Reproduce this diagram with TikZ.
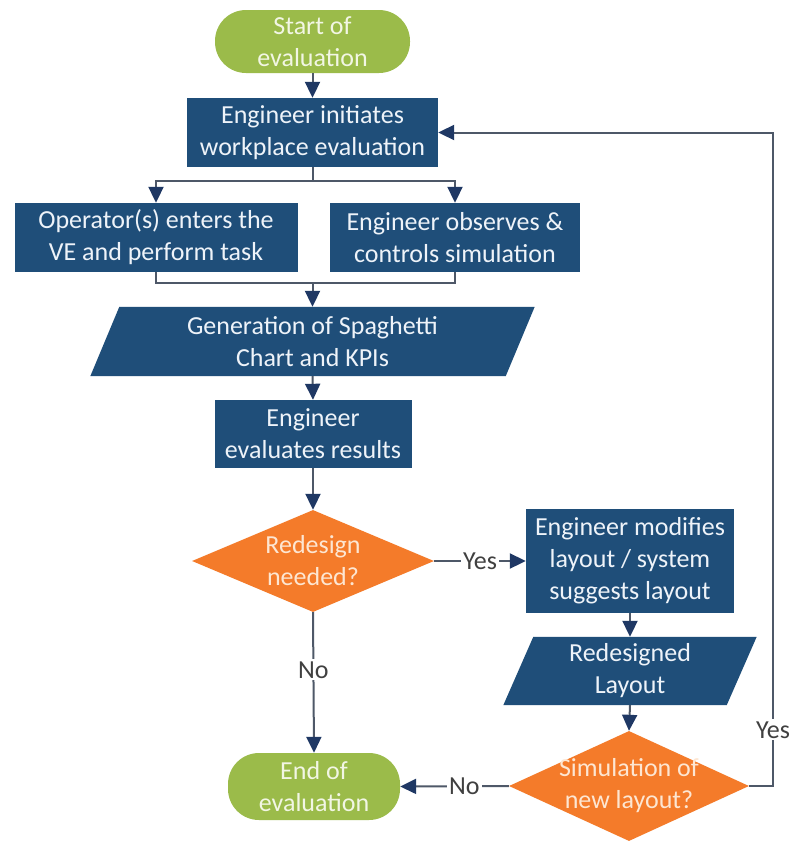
\documentclass[tikz,border=0pt]{standalone}
\usepackage{fontspec}
\setmainfont{Carlito}
\usetikzlibrary{arrows.meta,shapes.geometric,backgrounds,calc}
\definecolor{nblue}{HTML}{1F4E79}
\definecolor{ngreen}{HTML}{9BBB4A}
\definecolor{norange}{HTML}{F47B2A}
\definecolor{nline}{HTML}{4E5868}
\definecolor{ntip}{HTML}{1F3864}
\definecolor{nlabel}{HTML}{404040}
\definecolor{boxtext}{HTML}{EEF3F9}
\definecolor{greentext}{HTML}{F2F6E4}
\definecolor{orangetext}{HTML}{FDE6D2}
\begin{document}
\begin{tikzpicture}[x=1pt,y=-1pt,
  font=\fontsize{26}{32}\selectfont,
  box/.style={rectangle, fill=nblue, text=boxtext, align=center, inner sep=0pt},
  term/.style={rectangle, rounded corners=31pt, fill=ngreen, text=greentext, align=center, inner sep=0pt},
  dia/.style={diamond, fill=norange, inner sep=0pt},
  dtext/.style={text=orangetext, align=center, inner sep=0pt},
  ptext/.style={text=boxtext, align=center, inner sep=0pt},
  flow/.style={draw=nline, line width=2pt, -{Triangle[length=16pt,width=15pt,color=ntip]}},
  conn/.style={draw=nline, line width=2pt},
  lab/.style={fill=white, text=nlabel, inner sep=2pt}
]
\useasboundingbox (0,0) rectangle (791,841);

% nodes
\node[term, minimum width=195pt, minimum height=63pt] (start) at (312.5,41.5) {Start of\\evaluation};
\node[box, minimum width=251pt, minimum height=69pt] (init) at (312.5,132.5) {Engineer initiates\\workplace evaluation};
\node[box, minimum width=283pt, minimum height=69pt] (op) at (156,237.5) {Operator(s) enters the\\VE and perform task};
\node[box, minimum width=250pt, minimum height=69pt] (obs) at (455,237.5) {Engineer observes \&\\controls simulation};
\node[ptext, minimum width=415pt, minimum height=69pt] (gen) at (312.5,341.5) {Generation of Spaghetti\\Chart and KPIs};
\node[box, minimum width=197pt, minimum height=68pt] (evalr) at (313,434) {Engineer\\evaluates results};
\node[dia, minimum width=242pt, minimum height=102pt] (redes) at (313,561) {};
\node[dtext] (redest) at (redes.center) {Redesign\\needed?};
\node[box, minimum width=208pt, minimum height=104pt] (mod) at (630,561) {Engineer modifies\\layout / system\\suggests layout};
\node[ptext, minimum width=223pt, minimum height=68pt] (rl) at (630,671) {Redesigned\\Layout};
\node[dia, minimum width=240pt, minimum height=110pt] (sim) at (629,786) {};
\node[dtext] (simt) at (sim.center) {Simulation of\\new layout?};
\node[term, minimum width=172pt, minimum height=67pt] (end) at (314,786.5) {End of\\evaluation};

% helper coordinates
\coordinate (sp) at (312.5,181);
\coordinate (mg) at (312.5,283);
\coordinate (rc) at (773,786);
\coordinate (rt) at (773,132.5);

% connectors
\draw[flow] (start) -- (init);
\draw[conn] (init.south) -- (sp);
\draw[flow] (sp) -| (op.north);
\draw[flow] (sp) -| (obs.north);
\draw[conn] (op.south) |- (mg);
\draw[conn] (obs.south) |- (mg);
\draw[flow] (mg) -- (gen.north);
\draw[flow] (gen.south) -- (evalr.north);
\draw[flow] (evalr.south) -- (redes.north);
\draw[flow] (redes.east) -- node[lab]{Yes} (mod.west);
\draw[flow] (mod.south) -- (rl.north);
\draw[flow] (rl.south) -- (sim.north);
\draw[flow] (redes.south) -- node[lab, pos=0.41]{No} (end.north);
\draw[flow] (sim.west) -- node[lab, pos=0.41]{No} (end.east);
\draw[flow] (sim.east) -- (rc) -- node[lab, pos=0.086]{Yes} (rt) -- (init.east);

% background fills
\begin{scope}[on background layer]
  \fill[white] (0,0) rectangle (791,841);
  \fill[nblue] ($(gen.north west)+(14.5,0)$) -- ($(gen.north east)+(14.5,0)$)
     -- ($(gen.south east)+(-14.5,0)$) -- ($(gen.south west)+(-14.5,0)$) -- cycle;
  \fill[nblue] ($(rl.north west)+(15,0)$) -- ($(rl.north east)+(15,0)$)
     -- ($(rl.south east)+(-15,0)$) -- ($(rl.south west)+(-15,0)$) -- cycle;
\end{scope}
\end{tikzpicture}
\end{document}
